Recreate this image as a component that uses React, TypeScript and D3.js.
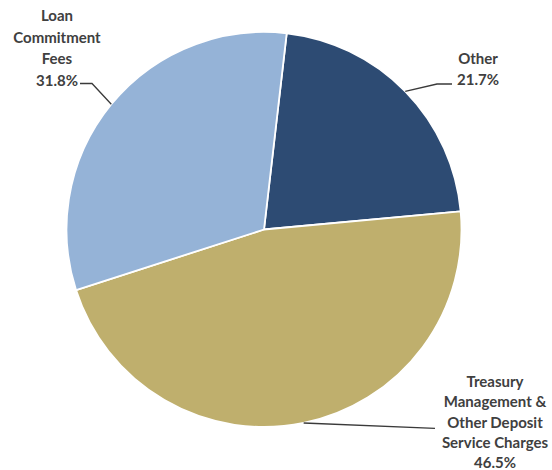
import React from "react";
import * as d3 from "d3";

const categories = ["Other", "Treasury Management & Other Deposit Service Charges", "Loan Commitment Fees"];
const values = [21.7, 46.5, 31.8];
const labelLines = [
  ["Other", "21.7%"],
  ["Treasury", "Management &", "Other Deposit", "Service Charges", "46.5%"],
  ["Loan", "Commitment", "Fees", "31.8%"],
];
const colors = ["#2D4B73", "#BFAF6D", "#95B3D7"];

const W = 552;
const H = 470;
const cx = 264;
const cy = 229.5;
const R = 197.5;
const startDeg = 6.6;

// label layout: center x, first baseline, line height, leader points (elbow, end)
const labelLayout = [
  { x: 478, y: 64, lh: 20.5, elbow: [437, 84], end: [452, 84] },
  { x: 495, y: 387, lh: 20.3, elbow: [435, 428.3], end: [435, 428.3] },
  { x: 57, y: 21, lh: 21.5, elbow: [92, 83.5], end: [80, 83.5] },
];

export default function App() {
  const pie = d3
    .pie<number>()
    .sort(null)
    .startAngle((startDeg * Math.PI) / 180)
    .endAngle((startDeg * Math.PI) / 180 + 2 * Math.PI);
  const arcs = pie(values);
  const arc = d3.arc<d3.PieArcDatum<number>>().innerRadius(0).outerRadius(R);
  const edge = d3.arc<d3.PieArcDatum<number>>().innerRadius(R).outerRadius(R);
  const line = d3.line();

  return (
    <svg
      width={W}
      height={H}
      style={{ position: "absolute", left: 0, top: 0, background: "#fff" }}
      fontFamily="Lato, 'Open Sans', sans-serif"
    >
      <g transform={`translate(${cx},${cy})`}>
        {arcs.map((a, i) => (
          <path key={categories[i]} d={arc(a) || ""} fill={colors[i]} stroke="#fff" strokeWidth={1.8} strokeLinejoin="round" />
        ))}
      </g>
      {arcs.map((a, i) => {
        const [ex, ey] = edge.centroid(a);
        const L = labelLayout[i];
        const pts: [number, number][] = [
          [cx + ex, cy + ey],
          L.elbow as [number, number],
          L.end as [number, number],
        ];
        return <path key={"l" + i} d={line(pts) || ""} fill="none" stroke="#3a3a3a" strokeWidth={1.3} />;
      })}
      {labelLayout.map((L, i) => (
        <text key={"t" + i} textAnchor="middle" fontSize={15} fontWeight={700} fill="#404040">
          {labelLines[i].map((s, j) => (
            <tspan key={j} x={L.x} y={L.y + j * L.lh}>
              {s}
            </tspan>
          ))}
        </text>
      ))}
    </svg>
  );
}
